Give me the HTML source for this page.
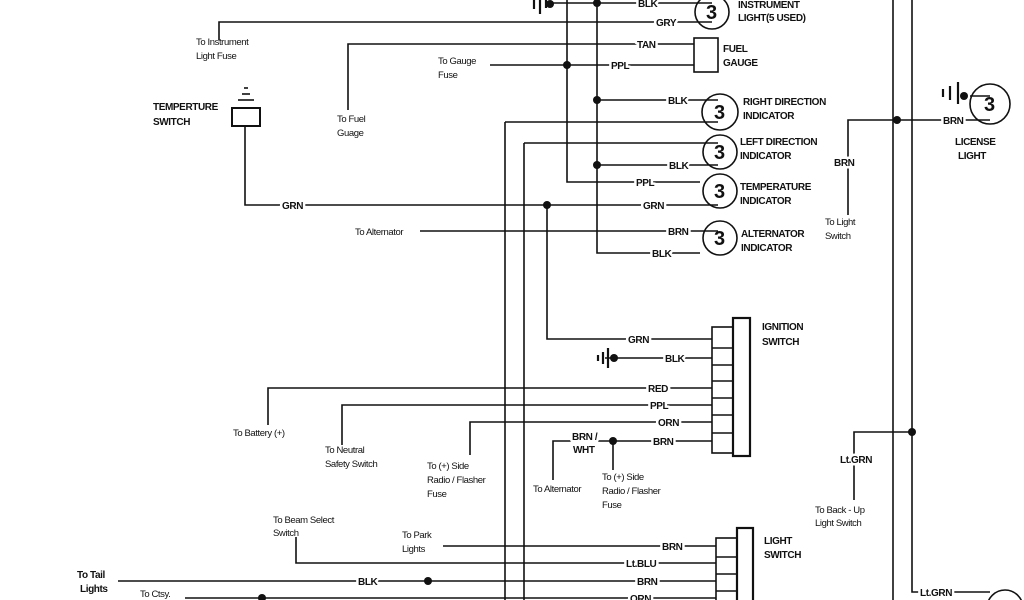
<!DOCTYPE html>
<html><head><meta charset="utf-8">
<style>
html,body{margin:0;padding:0;background:#fff;}
svg{display:block;}
text{font-family:"Liberation Sans",sans-serif;font-weight:bold;font-size:10px;fill:#111;letter-spacing:-0.4px;}
.l{paint-order:stroke;stroke:#fff;stroke-width:5px;stroke-linejoin:round;}
.n{font-weight:normal;font-size:9.5px;}
.g{font-size:20px;font-weight:bold;}
</style></head><body>
<svg width="1024" height="600" viewBox="0 0 1024 600" xmlns="http://www.w3.org/2000/svg">
<g stroke="#111" stroke-width="1.6" fill="none">
<line x1="505" y1="122" x2="505" y2="600"/>
<line x1="524" y1="143" x2="524" y2="600"/>
<polyline points="547,205 547,339 712,339"/>
<polyline points="567,0 567,182 700,182"/>
<polyline points="597,0 597,253 700,253"/>
<line x1="893" y1="0" x2="893" y2="600"/>
<polyline points="912,0 912,592 990,592"/>
<polyline points="550,3 712,3"/>
<polyline points="219,40 219,22 712,22"/>
<polyline points="348,110 348,44 694,44"/>
<polyline points="490,65 694,65"/>
<polyline points="597,100 718,100"/>
<polyline points="505,122 718,122"/>
<polyline points="524,143 718,143"/>
<polyline points="597,165 718,165"/>
<polyline points="245,126 245,205 718,205"/>
<polyline points="420,231 718,231"/>
<polyline points="848,215 848,120 990,120"/>
<polyline points="854,500 854,432 912,432"/>
<line x1="970" y1="96" x2="990" y2="96"/>
<line x1="605" y1="358" x2="712" y2="358"/>
<polyline points="268,425 268,388 712,388"/>
<polyline points="342,445 342,405 712,405"/>
<polyline points="470,455 470,422 712,422"/>
<polyline points="553,480 553,441 712,441"/>
<line x1="613" y1="441" x2="613" y2="470"/>
<line x1="443" y1="546" x2="716" y2="546"/>
<polyline points="296,537 296,563 716,563"/>
<line x1="118" y1="581" x2="716" y2="581"/>
<line x1="185" y1="598" x2="716" y2="598"/>
<rect x="694" y="38" width="24" height="34"/>
<circle cx="712" cy="12" r="17"/>
<circle cx="720" cy="112" r="18"/>
<circle cx="720" cy="152" r="17"/>
<circle cx="720" cy="191" r="17"/>
<circle cx="720" cy="238" r="17"/>
<circle cx="990" cy="104" r="20"/>
<circle cx="1005" cy="608" r="18"/>
<rect x="232" y="108" width="28" height="18" stroke-width="2"/>
<line x1="238" y1="100" x2="254" y2="100"/>
<line x1="242" y1="94" x2="250" y2="94"/>
<line x1="244" y1="88" x2="248" y2="88"/>
<rect x="733" y="318" width="17" height="138" stroke-width="2.2"/>
<rect x="712" y="327" width="21" height="126"/>
<line x1="712" y1="348" x2="733" y2="348"/>
<line x1="712" y1="365" x2="733" y2="365"/>
<line x1="712" y1="381" x2="733" y2="381"/>
<line x1="712" y1="398" x2="733" y2="398"/>
<line x1="712" y1="415" x2="733" y2="415"/>
<line x1="712" y1="433" x2="733" y2="433"/>
<rect x="737" y="528" width="16" height="80" stroke-width="2.2"/>
<rect x="716" y="538" width="21" height="70"/>
<line x1="716" y1="557" x2="737" y2="557"/>
<line x1="716" y1="574" x2="737" y2="574"/>
<line x1="716" y1="591" x2="737" y2="591"/>
<g stroke-width="2.2">
<line x1="540" y1="0" x2="540" y2="14"/><line x1="534" y1="0" x2="534" y2="9"/><line x1="546" y1="0" x2="546" y2="8"/>
<line x1="608" y1="348" x2="608" y2="368"/><line x1="603" y1="352" x2="603" y2="364"/><line x1="598" y1="355" x2="598" y2="361"/>
<line x1="958" y1="82" x2="958" y2="104"/><line x1="950" y1="86" x2="950" y2="100"/><line x1="943" y1="89" x2="943" y2="97"/>
</g>
</g>
<text class="g" x="706" y="19">3</text>
<text class="g" x="714" y="119">3</text>
<text class="g" x="714" y="159">3</text>
<text class="g" x="714" y="198">3</text>
<text class="g" x="714" y="245">3</text>
<text class="g" x="984" y="111">3</text>
<g fill="#111">
<circle cx="550" cy="4" r="4"/><circle cx="597" cy="3" r="4"/>
<circle cx="567" cy="65" r="4"/><circle cx="597" cy="100" r="4"/>
<circle cx="597" cy="165" r="4"/><circle cx="547" cy="205" r="4"/>
<circle cx="897" cy="120" r="4"/><circle cx="912" cy="432" r="4"/>
<circle cx="964" cy="96" r="4"/><circle cx="614" cy="358" r="4"/>
<circle cx="613" cy="441" r="4"/><circle cx="428" cy="581" r="4"/>
<circle cx="262" cy="598" r="4"/>
</g>
<text class="l" x="638" y="7">BLK</text>
<text class="l" x="656" y="26">GRY</text>
<text class="l" x="637" y="48">TAN</text>
<text class="l" x="611" y="69">PPL</text>
<text class="l" x="668" y="104">BLK</text>
<text class="l" x="669" y="169">BLK</text>
<text class="l" x="636" y="186">PPL</text>
<text class="l" x="643" y="209">GRN</text>
<text class="l" x="282" y="209">GRN</text>
<text class="l" x="668" y="235">BRN</text>
<text class="l" x="652" y="257">BLK</text>
<text class="l" x="943" y="124">BRN</text>
<text class="l" x="834" y="166">BRN</text>
<text class="l" x="840" y="463">Lt.GRN</text>
<text class="l" x="920" y="596">Lt.GRN</text>
<text class="l" x="628" y="343">GRN</text>
<text class="l" x="665" y="362">BLK</text>
<text class="l" x="648" y="392">RED</text>
<text class="l" x="650" y="409">PPL</text>
<text class="l" x="658" y="426">ORN</text>
<text class="l" x="653" y="445">BRN</text>
<text class="l" x="572" y="440">BRN /</text>
<text class="l" x="573" y="453">WHT</text>
<text class="l" x="662" y="550">BRN</text>
<text class="l" x="626" y="567">Lt.BLU</text>
<text class="l" x="637" y="585">BRN</text>
<text class="l" x="358" y="585">BLK</text>
<text class="l" x="630" y="602">ORN</text>
<text x="738" y="8">INSTRUMENT</text>
<text x="738" y="21">LIGHT(5 USED)</text>
<text x="723" y="52">FUEL</text>
<text x="723" y="66">GAUGE</text>
<text x="743" y="105">RIGHT DIRECTION</text>
<text x="743" y="119">INDICATOR</text>
<text x="740" y="145">LEFT DIRECTION</text>
<text x="740" y="159">INDICATOR</text>
<text x="740" y="190">TEMPERATURE</text>
<text x="740" y="204">INDICATOR</text>
<text x="741" y="237">ALTERNATOR</text>
<text x="741" y="251">INDICATOR</text>
<text x="955" y="145">LICENSE</text>
<text x="958" y="159">LIGHT</text>
<text x="153" y="110">TEMPERTURE</text>
<text x="153" y="125">SWITCH</text>
<text x="762" y="330">IGNITION</text>
<text x="762" y="345">SWITCH</text>
<text x="764" y="544">LIGHT</text>
<text x="764" y="558">SWITCH</text>
<text class="n" x="196" y="45">To Instrument</text>
<text class="n" x="196" y="59">Light Fuse</text>
<text class="n" x="438" y="64">To Gauge</text>
<text class="n" x="438" y="78">Fuse</text>
<text class="n" x="337" y="122">To Fuel</text>
<text class="n" x="337" y="136">Guage</text>
<text class="n" x="355" y="235">To Alternator</text>
<text class="n" x="825" y="225">To Light</text>
<text class="n" x="825" y="239">Switch</text>
<text class="n" x="233" y="436">To Battery (+)</text>
<text class="n" x="325" y="453">To Neutral</text>
<text class="n" x="325" y="467">Safety Switch</text>
<text class="n" x="427" y="469">To (+) Side</text>
<text class="n" x="427" y="483">Radio / Flasher</text>
<text class="n" x="427" y="497">Fuse</text>
<text class="n" x="533" y="492">To Alternator</text>
<text class="n" x="602" y="480">To (+) Side</text>
<text class="n" x="602" y="494">Radio / Flasher</text>
<text class="n" x="602" y="508">Fuse</text>
<text class="n" x="815" y="513">To Back - Up</text>
<text class="n" x="815" y="526">Light Switch</text>
<text class="n" x="273" y="523">To Beam Select</text>
<text class="n" x="273" y="536">Switch</text>
<text class="n" x="402" y="538">To Park</text>
<text class="n" x="402" y="552">Lights</text>
<text x="77" y="578">To Tail</text>
<text x="80" y="592">Lights</text>
<text class="n" x="140" y="597">To Ctsy.</text>
</svg>
</body></html>
